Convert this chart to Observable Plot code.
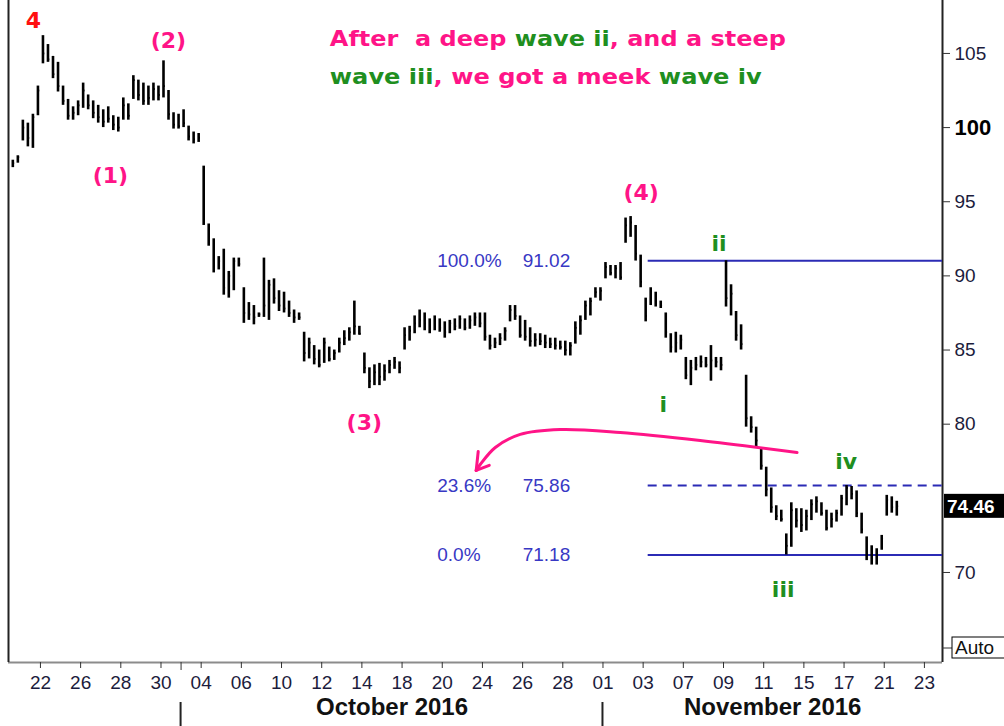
<!DOCTYPE html>
<html><head><meta charset="utf-8">
<script src="https://cdn.jsdelivr.net/npm/d3@7"></script>
<script src="https://cdn.jsdelivr.net/npm/@observablehq/plot@0.6"></script>
<style>body{margin:0;background:#fff;overflow:hidden} #chart{width:1004px;height:726px}</style>
</head><body><div id="chart"></div>
<script>
// trading days shown on the axis (weekends skipped)
const tradingDays = ["2016-09-20","2016-09-21","2016-09-22","2016-09-23","2016-09-26","2016-09-27","2016-09-28","2016-09-29","2016-09-30",
 "2016-10-03","2016-10-04","2016-10-05","2016-10-06","2016-10-07","2016-10-10","2016-10-11","2016-10-12","2016-10-13","2016-10-14",
 "2016-10-17","2016-10-18","2016-10-19","2016-10-20","2016-10-21","2016-10-24","2016-10-25","2016-10-26","2016-10-27","2016-10-28","2016-10-31",
 "2016-11-01","2016-11-02","2016-11-03","2016-11-04","2016-11-07","2016-11-08","2016-11-09","2016-11-10","2016-11-11",
 "2016-11-14","2016-11-15","2016-11-16","2016-11-17","2016-11-18","2016-11-21","2016-11-22","2016-11-23"];
const tickDates = ["2016-09-22","2016-09-26","2016-09-28","2016-09-30","2016-10-04","2016-10-06","2016-10-10","2016-10-12","2016-10-14",
 "2016-10-18","2016-10-20","2016-10-24","2016-10-26","2016-10-28","2016-11-01","2016-11-03","2016-11-07","2016-11-09","2016-11-11",
 "2016-11-15","2016-11-17","2016-11-21","2016-11-23"];
const monthStarts = ["2016-10-03","2016-11-01"];
const monthLabels = ["October 2016","November 2016"];
const yTicks = [70,80,85,90,95,100,105]; // 75 is covered by the last-price box

// intraday bars: 4 per trading day (high / low / close), one row per trading day from 2016-09-20
const barHigh = [
 [null,null,97.8,98.1],[100.5,100.3,100.9,102.8],[106.2,105.6,104.8,104.4],[102.8,101.9,101.4,101.8],
 [103.0,102.2,101.8,101.5],[101.2,101.4,100.8,100.7],[102.0,101.6,103.5,103.2],[103.0,102.8,103.0,102.8],
 [104.5,102.5,101.0,100.9],[101.2,100.1,99.7,99.6],[97.4,93.5,92.5,91.3],[91.8,90.3,91.2,91.2],
 [89.2,88.2,88.0,87.5],[91.2,89.7,89.8,89.0],[88.9,88.3,87.7,87.5],[86.2,85.8,85.3,85.0],
 [85.8,85.2,85.0,85.8],[86.3,86.5,88.3,86.6],[84.8,83.8,84.0,84.1],[84.0,84.3,84.5,84.2],
 [86.5,86.6,87.3,87.7],[87.5,87.1,87.3,87.1],[86.9,87.0,87.1,87.3],[87.1,87.3,87.5,87.5],
 [87.5,86.0,85.8,86.1],[86.5,88.0,88.0,87.3],[87.0,86.5,86.1,86.1],[86.0,85.8,85.8,85.6],
 [85.6,85.5,86.9,87.3],[88.3,88.5,89.2,89.2],[90.9,90.7,90.7,90.9],[93.9,94.0,93.4,91.4],
 [88.5,89.2,88.9,88.3],[87.5,86.1,86.2,86.0],[84.5,84.3,84.5,84.6],[84.5,85.3,84.5,84.5],
 [91.02,89.4,87.6,86.7],[83.3,80.5,79.8,78.4],[77.1,75.7,74.5,74.2],[72.6,74.7,74.3,74.3],
 [74.2,74.9,75.1,74.7],[74.2,74.0,74.2,75.2],[75.86,75.8,75.5,74.0],[72.4,71.8,71.6,72.5],
 [75.2,75.1,74.8,null]];
const barLow = [
 [null,null,97.3,97.6],[99.1,98.7,98.6,100.8],[104.3,104.4,103.3,102.4],[101.5,100.5,100.5,100.8],
 [101.3,101.2,100.6,100.3],[100.0,100.3,99.8,99.7],[100.5,100.5,101.9,101.8],[101.5,101.5,101.8,101.8],
 [102.0,100.5,99.9,99.9],[100.0,99.1,98.9,99.0],[93.4,92.0,90.2,90.4],[88.7,88.5,89.0,90.6],
 [86.8,87.0,86.7,87.2],[87.2,87.0,88.1,87.6],[87.5,87.2,86.8,87.0],[84.2,84.4,84.0,83.8],
 [84.1,84.2,84.3,84.8],[85.3,85.6,86.0,86.0],[83.4,82.4,82.6,82.6],[82.9,83.4,83.7,83.4],
 [85.0,85.6,86.1,86.5],[86.3,86.1,86.3,86.2],[85.8,86.1,86.3,86.4],[86.3,86.4,86.6,86.5],
 [85.6,85.0,85.1,85.3],[85.6,86.9,87.0,85.8],[85.6,85.2,85.2,85.3],[85.1,85.1,85.0,85.0],
 [84.6,84.6,85.4,86.0],[87.0,87.3,88.5,88.3],[89.8,90.0,89.8,89.7],[92.2,92.6,91.0,89.2],
 [86.9,88.0,87.9,87.8],[85.8,84.8,84.8,85.0],[83.0,82.6,83.6,83.8],[83.8,82.9,83.8,83.6],
 [87.9,87.3,85.6,85.0],[79.8,79.4,78.4,76.9],[75.1,74.0,73.5,73.4],[71.18,71.7,73.0,72.7],
 [72.8,73.5,74.0,73.8],[72.8,73.0,73.4,73.8],[74.5,74.9,73.7,72.6],[70.8,70.5,70.5,71.5],
 [73.8,74.0,73.8,null]];
const barClose = [
 [null,null,97.6,98.0],[100.0,99.3,100.7,102.5],[105.0,104.6,103.6,102.8],[101.8,100.8,101.0,101.5],
 [102.5,101.5,101.0,100.7],[100.4,100.6,100.2,100.0],[101.5,100.8,103.2,102.2],[101.8,102.0,102.6,102.2],
 [102.8,100.9,100.2,100.1],[100.3,99.4,99.2,99.3],[94.5,92.6,90.8,91.0],[89.2,90.0,91.0,90.8],
 [87.5,87.4,87.2,87.4],[88.0,89.4,88.5,88.0],[87.8,87.5,87.2,87.2],[84.8,85.5,84.4,84.0],
 [85.5,84.4,84.8,85.5],[85.8,86.2,86.6,86.1],[83.8,82.9,83.5,83.2],[83.6,84.0,84.2,83.8],
 [86.0,86.3,86.8,87.0],[86.8,86.4,87.0,86.5],[86.2,86.8,86.6,87.1],[86.5,87.0,87.2,86.8],
 [85.9,85.3,85.5,85.8],[86.3,87.7,87.3,86.0],[85.9,85.6,85.7,85.6],[85.5,85.4,85.3,85.2],
 [85.0,85.3,86.5,87.0],[88.0,88.3,88.9,89.0],[90.6,90.2,90.5,89.9],[93.4,93.6,91.5,89.6],
 [87.3,88.8,88.3,88.0],[86.2,85.2,85.5,85.7],[83.3,83.8,84.0,84.2],[84.0,84.3,84.2,84.0],
 [88.5,88.8,86.0,85.4],[80.4,79.8,78.9,77.2],[75.6,74.4,73.8,73.6],[71.8,74.2,73.5,73.2],
 [73.8,74.6,74.8,74.0],[73.0,73.6,74.0,75.0],[75.7,75.3,74.0,72.9],[71.2,71.0,71.3,72.3],
 [74.9,74.4,74.46,null]];
const lastPrice = 74.46;

// Fibonacci levels
const fibPct = ["100.0%","23.6%","0.0%"];
const fibLevel = [91.02, 75.86, 71.18];
const fibDashed = [false, true, false];

// wave labels (x in trading-day index, y in price)
const waveText = ["4","(2)","(1)","(3)","(4)","ii","i","iii","iv"];
const waveT = [1.65, 8.37, 5.48, 18.12, 31.9, 35.78, 33.0, 38.97, 42.1];
const waveV = [107.2, 105.87, 96.77, 80.11, 95.62, 92.18, 81.33, 68.79, 77.48];
const waveColor = ["#ff1010","#ff1487","#ff1487","#ff1487","#ff1487","#1f8f1f","#1f8f1f","#1f8f1f","#1f8f1f"];

// pink curved arrow path and its head (tip, two wing ends)
const arrowT = [39.66, 34.84, 30.86, 27.87, 25.88, 24.64, 23.89, 23.69];
const arrowV = [78.09, 78.90, 79.44, 79.64, 79.31, 78.43, 77.28, 76.88];
const arrowWingT = [24.34, 23.79];
const arrowWingV = [77.22, 78.16];

const noteLines = [
  [["After  a deep ","#ff1487"],["wave ii","#1f8f1f"],[", and a steep","#ff1487"]],
  [["wave iii","#1f8f1f"],[", we got a meek ","#ff1487"],["wave iv","#1f8f1f"]]
];
const noteT = 16.43;
const noteV = [105.47, 102.9];

const idx = d => tradingDays.indexOf(d);
const rows = [];
barHigh.forEach((day, i) => day.forEach((h, q) => {
  if (h == null) return;
  rows.push({t: i + (q + 0.5) / 4, high: h, low: barLow[i][q], close: barClose[i][q]});
}));
const fibRows = fibLevel.map((v, i) => ({v, pct: fibPct[i], dashed: fibDashed[i]}));
const waves = waveText.map((s, i) => ({s, t: waveT[i], v: waveV[i], c: waveColor[i]}));
const arrowPts = arrowT.map((t, i) => ({t, v: arrowV[i]}));
const tipT = arrowT[arrowT.length - 1], tipV = arrowV[arrowV.length - 1];
const wings = arrowWingT.map((t, i) => ({x1: tipT, y1: tipV, x2: t, y2: arrowWingV[i]}));
const months = monthLabels.map((m, i) => {
  const a = idx(monthStarts[i]);
  const b = i + 1 < monthStarts.length ? idx(monthStarts[i + 1]) : 46.9;
  return {m, t: (a + b) / 2};
});

const X0 = 0.41, X1 = 46.9, Y0 = 63.93, Y1 = 108.57;
const fibStart = 32.25, fibPctT = 21.75, fibValT = 28.37;

const plot = Plot.plot({
  width: 1004, height: 726,
  marginLeft: 8, marginRight: 62, marginTop: 0, marginBottom: 64,
  style: {fontFamily: "'Liberation Sans', Arial, sans-serif", background: "#fff", color: "#1c1c3c"},
  x: {domain: [X0, X1], axis: null},
  y: {domain: [Y0, Y1], axis: null},
  marks: [
    Plot.ruleY([Y0], {stroke: "#8c8c8c", strokeWidth: 2}),
    Plot.ruleX([X0], {stroke: "#222", strokeWidth: 2}),
    Plot.ruleX([X1], {stroke: "#222", strokeWidth: 2}),
    Plot.axisY({anchor: "right", ticks: yTicks, tickSize: 7, tickPadding: 5, fontSize: 19, stroke: "#333"}),
    Plot.axisX({ticks: tickDates.map(idx), tickFormat: t => tradingDays[t].slice(8), tickSize: 6, tickPadding: 7, fontSize: 19, stroke: "#333"}),
    Plot.axisX({ticks: [idx(monthStarts[0])], tickFormat: () => "", tickSize: 8, stroke: "#333"}),
    Plot.text(months, {x: "t", text: "m", frameAnchor: "bottom", dy: 52, fontSize: 24, fontWeight: "bold", fill: "#111"}),
    // Fibonacci lines
    Plot.ruleY(fibRows.filter(d => !d.dashed), {y: "v", x1: fibStart, x2: X1, stroke: "#2b2bb5", strokeWidth: 2}),
    Plot.ruleY(fibRows.filter(d => d.dashed), {y: "v", x1: fibStart, x2: X1, stroke: "#2b2bb5", strokeWidth: 2, strokeDasharray: "9,6"}),
    Plot.text(fibRows, {x: fibPctT, y: "v", text: "pct", textAnchor: "start", fill: "#3838c4", fontSize: 19}),
    Plot.text(fibRows, {x: fibValT, y: "v", text: d => d.v.toFixed(2), textAnchor: "end", fill: "#3838c4", fontSize: 19}),
    // price bars
    Plot.ruleX(rows, {x: "t", y1: "low", y2: "high", stroke: "#000", strokeWidth: 2.6}),
    Plot.ruleY(rows, {y: "close", x1: "t", x2: d => d.t + 0.09, stroke: "#000", strokeWidth: 1.8}),
    // pink arrow
    Plot.line(arrowPts, {x: "t", y: "v", curve: "catmull-rom", stroke: "#ff1487", strokeWidth: 3}),
    Plot.link(wings, {x1: "x1", y1: "y1", x2: "x2", y2: "y2", stroke: "#ff1487", strokeWidth: 3, strokeLinecap: "round"}),
    // wave labels
    Plot.text(waves, {x: "t", y: "v", text: "s", fill: "c", fontSize: 22, fontWeight: "bold", fontFamily: "'DejaVu Sans', sans-serif"})
  ]
});
document.getElementById("chart").appendChild(plot);

const svg = d3.select(plot);
const xs = plot.scale("x"), ys = plot.scale("y");
// bold 100 label
svg.selectAll("g[aria-label='y-axis tick label'] text").filter(function(){ return this.textContent === "100"; })
  .attr("font-weight", "bold").attr("font-size", 22).attr("fill", "#000");

// annotation text
const nlen = [456, 432];
noteLines.forEach((segs, i) => {
  const t = svg.append("text").attr("x", xs.apply(noteT)).attr("y", ys.apply(noteV[i]))
    .attr("text-anchor", "start")
    .attr("font-family", "'DejaVu Sans', sans-serif").attr("font-weight", "bold").attr("font-size", 22)
    .attr("textLength", nlen[i]).attr("lengthAdjust", "spacingAndGlyphs")
    .style("white-space", "pre");
  segs.forEach(([s, c]) => t.append("tspan").attr("fill", c).text(s));
});

// last price box
const rx = xs.apply(X1) + 2, ry = ys.apply(lastPrice);
svg.append("rect").attr("x", rx).attr("y", ry - 12).attr("width", 64).attr("height", 24).attr("fill", "#000");
svg.append("text").attr("x", rx + 3).attr("y", ry + 7).attr("text-anchor", "start").attr("fill", "#fff").attr("font-weight", "bold")
  .attr("font-size", 19).attr("font-family", "'Liberation Sans', Arial, sans-serif").text(lastPrice.toFixed(2));

// Auto box
const fb = ys.range[0];
const ax = xs.apply(X1);
svg.append("line").attr("x1", ax).attr("x2", ax + 10).attr("y1", fb - 14).attr("y2", fb - 14).attr("stroke", "#333");
svg.append("rect").attr("x", ax + 10).attr("y", fb - 25).attr("width", 60).attr("height", 21).attr("fill", "#fff").attr("stroke", "#000");
svg.append("text").attr("x", ax + 13).attr("y", fb - 8).attr("text-anchor", "start").attr("font-size", 19).attr("fill", "#111")
  .attr("font-family", "'Liberation Sans', Arial, sans-serif").text("Auto");

// month separators
monthStarts.forEach(m => {
  const mx = xs.apply(idx(m));
  svg.append("line").attr("x1", mx).attr("x2", mx).attr("y1", fb + 40).attr("y2", 726).attr("stroke", "#222").attr("stroke-width", 2);
});
</script>
</body></html>
